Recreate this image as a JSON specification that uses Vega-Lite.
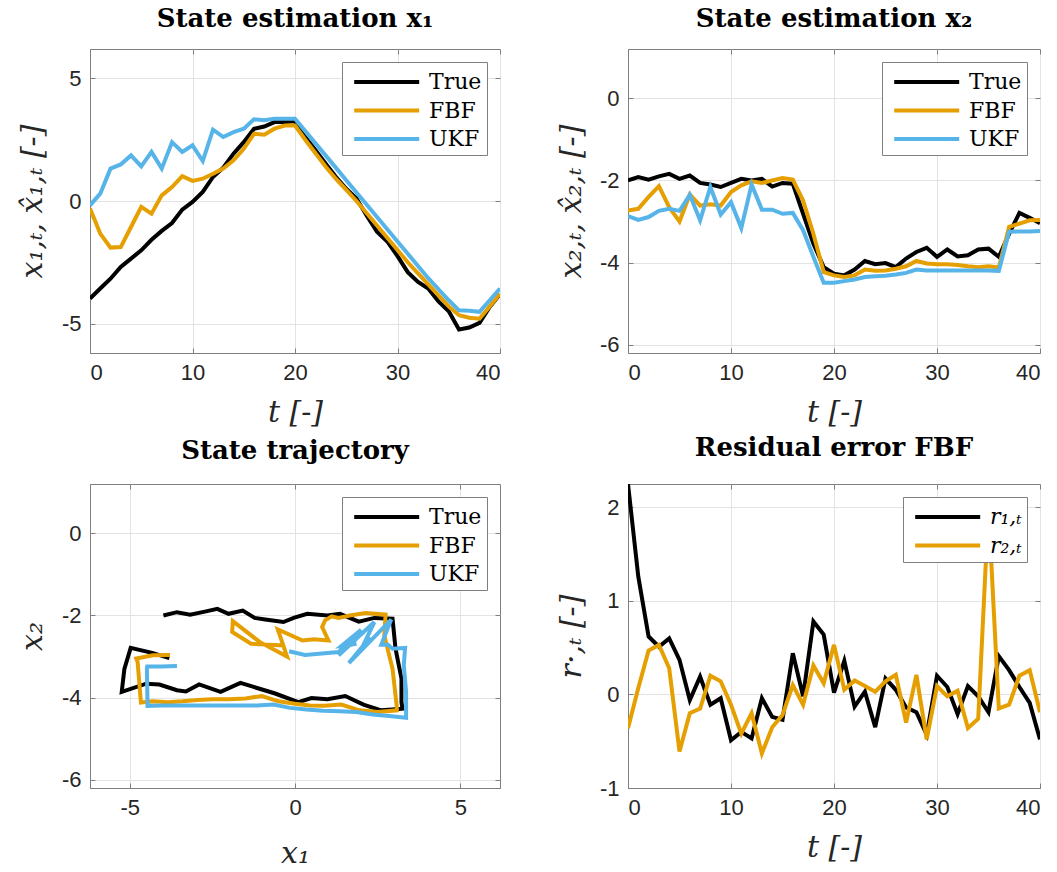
{
  "$schema": "https://vega.github.io/schema/vega-lite/v6.json",
  "background": "white",
  "padding": {"left": 16, "top": 5, "right": 5, "bottom": 5},
  "config": {
    "view": {"stroke": "#7f7f7f", "strokeWidth": 1},
    "axis": {
      "domainColor": "#7f7f7f", "tickColor": "#7f7f7f", "gridColor": "#e3e3e3", "gridWidth": 1,
      "tickSize": -5, "labelPadding": 14,
      "labelFont": "Liberation Sans", "labelFontSize": 22, "labelColor": "#262626",
      "titleFont": "DejaVu Serif", "titleFontStyle": "italic", "titleFontWeight": "normal",
      "titleFontSize": 30, "titleColor": "#262626", "grid": true
    },
    "title": {"font": "DejaVu Serif", "fontWeight": "bold", "fontSize": 26, "color": "#000000", "frame": "group", "baseline": "alphabetic", "anchor": "middle"},
    "legend": {
      "orient": "top-right", "offset": 13, "fillColor": "#ffffff", "strokeColor": "#7f7f7f", "strokeWidth": 1,
      "padding": 5, "symbolType": "M-0.6,0H4.4", "symbolSize": 676, "symbolStrokeWidth": 4,
      "labelFont": "DejaVu Serif", "labelFontSize": 22, "labelColor": "#000000",
      "rowPadding": 2.5, "labelOffset": 52, "labelLimit": 0, "cornerRadius": 0
    }
  },
  "datasets": {
    "st": [
      {"t":0,"s":"True","x1":-3.98,"x2":-2.00},{"t":1,"s":"True","x1":-3.57,"x2":-1.92},{"t":2,"s":"True","x1":-3.17,"x2":-1.98},{"t":3,"s":"True","x1":-2.69,"x2":-1.90},{"t":4,"s":"True","x1":-2.35,"x2":-1.84},{"t":5,"s":"True","x1":-2.01,"x2":-1.96},{"t":6,"s":"True","x1":-1.58,"x2":-1.88},{"t":7,"s":"True","x1":-1.22,"x2":-2.06},{"t":8,"s":"True","x1":-0.90,"x2":-2.10},{"t":9,"s":"True","x1":-0.35,"x2":-2.16},{"t":10,"s":"True","x1":-0.04,"x2":-2.06},
      {"t":11,"s":"True","x1":0.37,"x2":-1.96},{"t":12,"s":"True","x1":0.98,"x2":-2.00},{"t":13,"s":"True","x1":1.36,"x2":-1.96},{"t":14,"s":"True","x1":1.93,"x2":-2.15},{"t":15,"s":"True","x1":2.40,"x2":-2.06},{"t":16,"s":"True","x1":2.95,"x2":-2.08},{"t":17,"s":"True","x1":3.04,"x2":-2.81},{"t":18,"s":"True","x1":3.22,"x2":-3.54},{"t":19,"s":"True","x1":3.22,"x2":-4.11},{"t":20,"s":"True","x1":3.25,"x2":-4.27},
      {"t":21,"s":"True","x1":2.61,"x2":-4.31},{"t":22,"s":"True","x1":2.07,"x2":-4.17},{"t":23,"s":"True","x1":1.52,"x2":-3.96},{"t":24,"s":"True","x1":0.98,"x2":-4.04},{"t":25,"s":"True","x1":0.50,"x2":-4.01},{"t":26,"s":"True","x1":0.10,"x2":-4.11},{"t":27,"s":"True","x1":-0.60,"x2":-3.90},{"t":28,"s":"True","x1":-1.25,"x2":-3.74},{"t":29,"s":"True","x1":-1.65,"x2":-3.64},{"t":30,"s":"True","x1":-2.25,"x2":-3.86},
      {"t":31,"s":"True","x1":-2.90,"x2":-3.68},{"t":32,"s":"True","x1":-3.30,"x2":-3.85},{"t":33,"s":"True","x1":-3.57,"x2":-3.82},{"t":34,"s":"True","x1":-4.10,"x2":-3.68},{"t":35,"s":"True","x1":-4.50,"x2":-3.66},{"t":36,"s":"True","x1":-5.24,"x2":-3.86},{"t":37,"s":"True","x1":-5.16,"x2":-3.30},{"t":38,"s":"True","x1":-4.97,"x2":-2.79},{"t":39,"s":"True","x1":-4.32,"x2":-2.91},{"t":40,"s":"True","x1":-3.80,"x2":-3.04},
      {"t":0,"s":"FBF","x1":-0.31,"x2":-2.73},{"t":1,"s":"FBF","x1":-1.33,"x2":-2.69},{"t":2,"s":"FBF","x1":-1.90,"x2":-2.40},{"t":3,"s":"FBF","x1":-1.88,"x2":-2.14},{"t":4,"s":"FBF","x1":-1.06,"x2":-2.65},{"t":5,"s":"FBF","x1":-0.24,"x2":-3.00},{"t":6,"s":"FBF","x1":-0.52,"x2":-2.34},{"t":7,"s":"FBF","x1":0.23,"x2":-2.61},{"t":8,"s":"FBF","x1":0.57,"x2":-2.58},{"t":9,"s":"FBF","x1":1.01,"x2":-2.61},{"t":10,"s":"FBF","x1":0.82,"x2":-2.28},
      {"t":11,"s":"FBF","x1":0.91,"x2":-2.12},{"t":12,"s":"FBF","x1":1.11,"x2":-2.02},{"t":13,"s":"FBF","x1":1.32,"x2":-2.06},{"t":14,"s":"FBF","x1":1.66,"x2":-2.00},{"t":15,"s":"FBF","x1":2.13,"x2":-1.94},{"t":16,"s":"FBF","x1":2.74,"x2":-1.98},{"t":17,"s":"FBF","x1":2.70,"x2":-2.49},{"t":18,"s":"FBF","x1":2.95,"x2":-3.30},{"t":19,"s":"FBF","x1":3.08,"x2":-4.23},{"t":20,"s":"FBF","x1":3.08,"x2":-4.31},
      {"t":21,"s":"FBF","x1":2.50,"x2":-4.35},{"t":22,"s":"FBF","x1":1.95,"x2":-4.31},{"t":23,"s":"FBF","x1":1.40,"x2":-4.17},{"t":24,"s":"FBF","x1":0.90,"x2":-4.20},{"t":25,"s":"FBF","x1":0.45,"x2":-4.19},{"t":26,"s":"FBF","x1":0.00,"x2":-4.15},{"t":27,"s":"FBF","x1":-0.50,"x2":-4.09},{"t":28,"s":"FBF","x1":-1.00,"x2":-3.96},{"t":29,"s":"FBF","x1":-1.50,"x2":-4.02},{"t":30,"s":"FBF","x1":-2.00,"x2":-4.04},
      {"t":31,"s":"FBF","x1":-2.50,"x2":-4.04},{"t":32,"s":"FBF","x1":-2.95,"x2":-4.06},{"t":33,"s":"FBF","x1":-3.40,"x2":-4.09},{"t":34,"s":"FBF","x1":-3.85,"x2":-4.11},{"t":35,"s":"FBF","x1":-4.30,"x2":-4.09},{"t":36,"s":"FBF","x1":-4.66,"x2":-4.12},{"t":37,"s":"FBF","x1":-4.76,"x2":-3.13},{"t":38,"s":"FBF","x1":-4.80,"x2":-3.05},{"t":39,"s":"FBF","x1":-4.30,"x2":-2.97},{"t":40,"s":"FBF","x1":-3.78,"x2":-2.96},
      {"t":0,"s":"UKF","x1":-0.18,"x2":-2.87},{"t":1,"s":"UKF","x1":0.30,"x2":-2.96},{"t":2,"s":"UKF","x1":1.32,"x2":-2.89},{"t":3,"s":"UKF","x1":1.49,"x2":-2.74},{"t":4,"s":"UKF","x1":1.86,"x2":-2.69},{"t":5,"s":"UKF","x1":1.41,"x2":-2.74},{"t":6,"s":"UKF","x1":2.00,"x2":-2.35},{"t":7,"s":"UKF","x1":1.32,"x2":-2.97},{"t":8,"s":"UKF","x1":2.40,"x2":-2.16},{"t":9,"s":"UKF","x1":2.00,"x2":-2.83},{"t":10,"s":"UKF","x1":2.27,"x2":-2.53},
      {"t":11,"s":"UKF","x1":1.63,"x2":-3.16},{"t":12,"s":"UKF","x1":2.91,"x2":-2.10},{"t":13,"s":"UKF","x1":2.61,"x2":-2.71},{"t":14,"s":"UKF","x1":2.81,"x2":-2.71},{"t":15,"s":"UKF","x1":2.95,"x2":-2.81},{"t":16,"s":"UKF","x1":3.33,"x2":-2.79},{"t":17,"s":"UKF","x1":3.29,"x2":-3.21},{"t":18,"s":"UKF","x1":3.36,"x2":-3.86},{"t":19,"s":"UKF","x1":3.36,"x2":-4.49},{"t":20,"s":"UKF","x1":3.36,"x2":-4.49},
      {"t":21,"s":"UKF","x1":2.85,"x2":-4.45},{"t":22,"s":"UKF","x1":2.35,"x2":-4.41},{"t":23,"s":"UKF","x1":1.85,"x2":-4.35},{"t":24,"s":"UKF","x1":1.35,"x2":-4.33},{"t":25,"s":"UKF","x1":0.85,"x2":-4.32},{"t":26,"s":"UKF","x1":0.35,"x2":-4.29},{"t":27,"s":"UKF","x1":-0.15,"x2":-4.25},{"t":28,"s":"UKF","x1":-0.65,"x2":-4.17},{"t":29,"s":"UKF","x1":-1.15,"x2":-4.19},{"t":30,"s":"UKF","x1":-1.65,"x2":-4.19},
      {"t":31,"s":"UKF","x1":-2.15,"x2":-4.19},{"t":32,"s":"UKF","x1":-2.65,"x2":-4.19},{"t":33,"s":"UKF","x1":-3.15,"x2":-4.19},{"t":34,"s":"UKF","x1":-3.60,"x2":-4.19},{"t":35,"s":"UKF","x1":-4.05,"x2":-4.19},{"t":36,"s":"UKF","x1":-4.46,"x2":-4.20},{"t":37,"s":"UKF","x1":-4.48,"x2":-3.25},{"t":38,"s":"UKF","x1":-4.52,"x2":-3.24},{"t":39,"s":"UKF","x1":-4.05,"x2":-3.24},{"t":40,"s":"UKF","x1":-3.57,"x2":-3.23}
    ],
    "res": [
      {"t":0,"s":"r₁,ₜ","r":2.25},{"t":1,"s":"r₁,ₜ","r":1.26},{"t":2,"s":"r₁,ₜ","r":0.62},{"t":3,"s":"r₁,ₜ","r":0.51},{"t":4,"s":"r₁,ₜ","r":0.60},{"t":5,"s":"r₁,ₜ","r":0.37},{"t":6,"s":"r₁,ₜ","r":-0.06},{"t":7,"s":"r₁,ₜ","r":0.19},{"t":8,"s":"r₁,ₜ","r":-0.11},{"t":9,"s":"r₁,ₜ","r":-0.04},{"t":10,"s":"r₁,ₜ","r":-0.49},
      {"t":11,"s":"r₁,ₜ","r":-0.40},{"t":12,"s":"r₁,ₜ","r":-0.47},{"t":13,"s":"r₁,ₜ","r":-0.04},{"t":14,"s":"r₁,ₜ","r":-0.24},{"t":15,"s":"r₁,ₜ","r":-0.27},{"t":16,"s":"r₁,ₜ","r":0.44},{"t":17,"s":"r₁,ₜ","r":-0.02},{"t":18,"s":"r₁,ₜ","r":0.78},{"t":19,"s":"r₁,ₜ","r":0.64},{"t":20,"s":"r₁,ₜ","r":0.02},
      {"t":21,"s":"r₁,ₜ","r":0.36},{"t":22,"s":"r₁,ₜ","r":-0.13},{"t":23,"s":"r₁,ₜ","r":0.03},{"t":24,"s":"r₁,ₜ","r":-0.35},{"t":25,"s":"r₁,ₜ","r":0.17},{"t":26,"s":"r₁,ₜ","r":0.05},{"t":27,"s":"r₁,ₜ","r":-0.14},{"t":28,"s":"r₁,ₜ","r":-0.19},{"t":29,"s":"r₁,ₜ","r":-0.43},{"t":30,"s":"r₁,ₜ","r":0.20},
      {"t":31,"s":"r₁,ₜ","r":0.08},{"t":32,"s":"r₁,ₜ","r":-0.21},{"t":33,"s":"r₁,ₜ","r":0.09},{"t":34,"s":"r₁,ₜ","r":-0.02},{"t":35,"s":"r₁,ₜ","r":-0.19},{"t":36,"s":"r₁,ₜ","r":0.41},{"t":37,"s":"r₁,ₜ","r":0.26},{"t":38,"s":"r₁,ₜ","r":0.08},{"t":39,"s":"r₁,ₜ","r":-0.09},{"t":40,"s":"r₁,ₜ","r":-0.48},
      {"t":0,"s":"r₂,ₜ","r":-0.36},{"t":1,"s":"r₂,ₜ","r":0.07},{"t":2,"s":"r₂,ₜ","r":0.47},{"t":3,"s":"r₂,ₜ","r":0.53},{"t":4,"s":"r₂,ₜ","r":0.28},{"t":5,"s":"r₂,ₜ","r":-0.61},{"t":6,"s":"r₂,ₜ","r":-0.20},{"t":7,"s":"r₂,ₜ","r":-0.15},{"t":8,"s":"r₂,ₜ","r":0.20},{"t":9,"s":"r₂,ₜ","r":0.14},{"t":10,"s":"r₂,ₜ","r":-0.11},
      {"t":11,"s":"r₂,ₜ","r":-0.42},{"t":12,"s":"r₂,ₜ","r":-0.20},{"t":13,"s":"r₂,ₜ","r":-0.63},{"t":14,"s":"r₂,ₜ","r":-0.35},{"t":15,"s":"r₂,ₜ","r":-0.22},{"t":16,"s":"r₂,ₜ","r":0.10},{"t":17,"s":"r₂,ₜ","r":-0.11},{"t":18,"s":"r₂,ₜ","r":0.31},{"t":19,"s":"r₂,ₜ","r":0.12},{"t":20,"s":"r₂,ₜ","r":0.53},
      {"t":21,"s":"r₂,ₜ","r":0.05},{"t":22,"s":"r₂,ₜ","r":0.15},{"t":23,"s":"r₂,ₜ","r":0.09},{"t":24,"s":"r₂,ₜ","r":0.03},{"t":25,"s":"r₂,ₜ","r":0.14},{"t":26,"s":"r₂,ₜ","r":0.21},{"t":27,"s":"r₂,ₜ","r":-0.30},{"t":28,"s":"r₂,ₜ","r":0.21},{"t":29,"s":"r₂,ₜ","r":-0.48},{"t":30,"s":"r₂,ₜ","r":0.09},
      {"t":31,"s":"r₂,ₜ","r":-0.02},{"t":32,"s":"r₂,ₜ","r":0.04},{"t":33,"s":"r₂,ₜ","r":-0.36},{"t":34,"s":"r₂,ₜ","r":-0.26},{"t":35,"s":"r₂,ₜ","r":2.0},{"t":36,"s":"r₂,ₜ","r":-0.15},{"t":37,"s":"r₂,ₜ","r":-0.11},{"t":38,"s":"r₂,ₜ","r":0.20},{"t":39,"s":"r₂,ₜ","r":0.26},{"t":40,"s":"r₂,ₜ","r":-0.19}
    ]
  },
  "columns": 2,
  "spacing": {"column": 128, "row": 131},
  "bounds": "flush",
  "resolve": {"scale": {"x": "independent", "y": "independent", "color": "independent"}, "legend": {"color": "independent"}},
  "concat": [
    {
      "width": 410, "height": 304,
      "title": {"text": "State estimation x₁", "offset": 17},
      "data": {"name": "st"},
      "layer": [
        {
          "mark": {"type": "line", "strokeWidth": 4, "clip": true},
          "encoding": {
            "x": {"field": "t", "type": "quantitative", "scale": {"domain": [0, 40], "nice": false}, "axis": {"values": [0, 10, 20, 30, 40], "title": "t [-]", "titlePadding": 14, "labelExpr": "datum.value + ''"}},
            "y": {"field": "x1", "type": "quantitative", "scale": {"domain": [-6.2, 6.2], "nice": false, "zero": false}, "axis": {"values": [-5, 0, 5], "title": "x₁,ₜ, x̂₁,ₜ [-]", "titlePadding": 14, "labelExpr": "datum.value + ''"}},
            "color": {"field": "s", "type": "nominal", "scale": {"domain": ["True", "FBF", "UKF"], "range": ["#000000", "#E69F00", "#56B4E9"]}, "legend": {"title": null}}
          }
        },
        {
          "mark": {"type": "point", "opacity": 0},
          "encoding": {
            "x": {"field": "t", "type": "quantitative", "axis": {"orient": "top", "values": [0, 10, 20, 30, 40], "labels": false, "title": null, "grid": false, "domain": false}},
            "y": {"field": "x1", "type": "quantitative", "axis": {"orient": "right", "values": [-5, 0, 5], "labels": false, "title": null, "grid": false, "domain": false}}
          }
        }
      ],
      "resolve": {"axis": {"x": "independent", "y": "independent"}}
    },
    {
      "width": 412, "height": 304,
      "title": {"text": "State estimation x₂", "offset": 17},
      "data": {"name": "st"},
      "layer": [
        {
          "mark": {"type": "line", "strokeWidth": 4, "clip": true},
          "encoding": {
            "x": {"field": "t", "type": "quantitative", "scale": {"domain": [0, 40], "nice": false}, "axis": {"values": [0, 10, 20, 30, 40], "title": "t [-]", "titlePadding": 14, "labelExpr": "datum.value + ''"}},
            "y": {"field": "x2", "type": "quantitative", "scale": {"domain": [-6.2, 1.2], "nice": false, "zero": false}, "axis": {"values": [-6, -4, -2, 0], "title": "x₂,ₜ, x̂₂,ₜ [-]", "titlePadding": 13, "labelExpr": "datum.value + ''"}},
            "color": {"field": "s", "type": "nominal", "scale": {"domain": ["True", "FBF", "UKF"], "range": ["#000000", "#E69F00", "#56B4E9"]}, "legend": {"title": null}}
          }
        },
        {
          "mark": {"type": "point", "opacity": 0},
          "encoding": {
            "x": {"field": "t", "type": "quantitative", "axis": {"orient": "top", "values": [0, 10, 20, 30, 40], "labels": false, "title": null, "grid": false, "domain": false}},
            "y": {"field": "x2", "type": "quantitative", "axis": {"orient": "right", "values": [-6, -4, -2, 0], "labels": false, "title": null, "grid": false, "domain": false}}
          }
        }
      ],
      "resolve": {"axis": {"x": "independent", "y": "independent"}}
    },
    {
      "width": 410, "height": 304,
      "title": {"text": "State trajectory", "offset": 20},
      "data": {"name": "st"},
      "layer": [
        {
          "mark": {"type": "line", "strokeWidth": 4, "clip": true},
          "encoding": {
            "x": {"field": "x1", "type": "quantitative", "scale": {"domain": [-6.2, 6.2], "nice": false, "zero": false}, "axis": {"values": [-5, 0, 5], "title": "x₁", "titlePadding": 20, "labelExpr": "datum.value + ''"}},
            "y": {"field": "x2", "type": "quantitative", "scale": {"domain": [-6.2, 1.2], "nice": false, "zero": false}, "axis": {"values": [-6, -4, -2, 0], "title": "x₂", "titlePadding": 14, "labelExpr": "datum.value + ''"}},
            "order": {"field": "t", "type": "quantitative"},
            "color": {"field": "s", "type": "nominal", "scale": {"domain": ["True", "FBF", "UKF"], "range": ["#000000", "#E69F00", "#56B4E9"]}, "legend": {"title": null}}
          }
        },
        {
          "mark": {"type": "point", "opacity": 0},
          "encoding": {
            "x": {"field": "x1", "type": "quantitative", "axis": {"orient": "top", "values": [-5, 0, 5], "labels": false, "title": null, "grid": false, "domain": false}},
            "y": {"field": "x2", "type": "quantitative", "axis": {"orient": "right", "values": [-6, -4, -2, 0], "labels": false, "title": null, "grid": false, "domain": false}}
          }
        }
      ],
      "resolve": {"axis": {"x": "independent", "y": "independent"}}
    },
    {
      "width": 412, "height": 304,
      "title": {"text": "Residual error FBF", "offset": 20},
      "data": {"name": "res"},
      "layer": [
        {
          "mark": {"type": "line", "strokeWidth": 4, "clip": true},
          "encoding": {
            "x": {"field": "t", "type": "quantitative", "scale": {"domain": [0, 40], "nice": false}, "axis": {"values": [0, 10, 20, 30, 40], "title": "t [-]", "titlePadding": 14, "labelExpr": "datum.value + ''"}},
            "y": {"field": "r", "type": "quantitative", "scale": {"domain": [-1, 2.25], "nice": false, "zero": false}, "axis": {"values": [-1, 0, 1, 2], "title": "r·,ₜ [-]", "titlePadding": 13, "labelExpr": "datum.value + ''"}},
            "color": {"field": "s", "type": "nominal", "scale": {"domain": ["r₁,ₜ", "r₂,ₜ"], "range": ["#000000", "#E69F00"]}, "legend": {"title": null, "labelFontStyle": "italic"}}
          }
        },
        {
          "mark": {"type": "point", "opacity": 0},
          "encoding": {
            "x": {"field": "t", "type": "quantitative", "axis": {"orient": "top", "values": [0, 10, 20, 30, 40], "labels": false, "title": null, "grid": false, "domain": false}},
            "y": {"field": "r", "type": "quantitative", "axis": {"orient": "right", "values": [-1, 0, 1, 2], "labels": false, "title": null, "grid": false, "domain": false}}
          }
        }
      ],
      "resolve": {"axis": {"x": "independent", "y": "independent"}}
    }
  ]
}
